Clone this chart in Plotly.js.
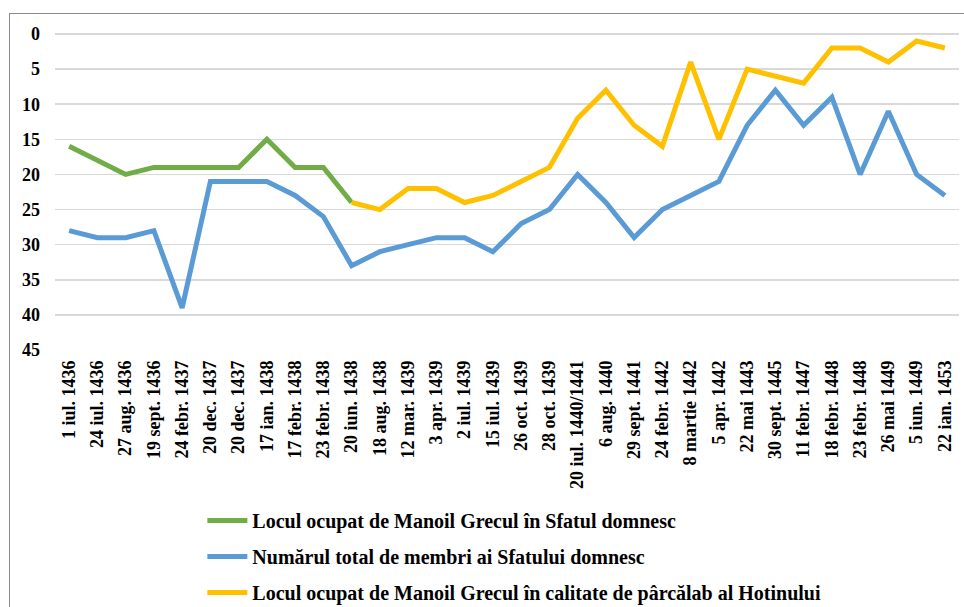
<!DOCTYPE html>
<html><head><meta charset="utf-8">
<script src="https://cdn.plot.ly/plotly-3.0.1.min.js"></script>
<style>html,body{margin:0;padding:0;background:#fff;overflow:hidden}#chart{width:964px;height:607px}
#frame{position:absolute;left:9px;top:13px;width:1200px;height:1200px;border-left:1.5px solid #8a8a8a;border-top:1.5px solid #8a8a8a;pointer-events:none}</style>
</head><body>
<div id="chart"></div><div id="frame"></div>
<script>
const categories = ["1 iul. 1436","24 iul. 1436","27 aug. 1436","19 sept. 1436","24 febr. 1437","20 dec. 1437","20 dec. 1437","17 ian. 1438","17 febr. 1438","23 febr. 1438","20 iun. 1438","18 aug. 1438","12 mar. 1439","3 apr. 1439","2 iul. 1439","15 iul. 1439","26 oct. 1439","28 oct. 1439","20 iul. 1440/1441","6 aug. 1440","29 sept. 1441","24 febr. 1442","8 martie 1442","5 apr. 1442","22 mai 1443","30 sept. 1445","11 febr. 1447","18 febr. 1448","23 febr. 1448","26 mai 1449","5 iun. 1449","22 ian. 1453"];
const seriesNames = ["Locul ocupat de Manoil Grecul în Sfatul domnesc","Numărul total de membri ai Sfatului domnesc","Locul ocupat de Manoil Grecul în calitate de pârcălab al Hotinului"];
const sfatValues = [16,18,20,19,19,19,19,15,19,19,24,null,null,null,null,null,null,null,null,null,null,null,null,null,null,null,null,null,null,null,null,null];
const totalValues = [28,29,29,28,39,21,21,21,23,26,33,31,30,29,29,31,27,25,20,24,29,25,23,21,13,8,13,9,20,11,20,23];
const parcalabValues = [null,null,null,null,null,null,null,null,null,null,24,25,22,22,24,23,21,19,12,8,13,16,4,15,5,6,7,2,2,4,1,2];
const yTicks = [0,5,10,15,20,25,30,35,40,45];

const xIdx = categories.map((_, i) => i);
const fontFam = 'Liberation Serif';
const colors = ['#70ad47','#5b9bd5','#ffc000'];
const vals = [sfatValues, totalValues, parcalabValues];
const traces = vals.map((v, k) => ({
  x: xIdx, y: v, type: 'scatter', mode: 'lines', name: seriesNames[k], legendgroup: 'g' + k,
  line: {color: colors[k], width: 5}, connectgaps: false
}));

const layout = {
  width: 964, height: 607,
  margin: {l: 55, r: 5, t: 34, b: 257, autoexpand: false},
  paper_bgcolor: '#fff', plot_bgcolor: '#fff',
  showlegend: true,
  legend: {x: 0.163, y: -0.478, xanchor: 'left', yanchor: 'top', orientation: 'v',
    font: {family: fontFam, size: 20, color: '#000', weight: 'bold'}, tracegroupgap: 7, itemwidth: 40},
  xaxis: {range: [-0.5, 31.5], tickvals: xIdx, ticktext: categories, tickangle: -90, automargin: false,
    showgrid: false, zeroline: false, showline: false, ticks: '', ticklabelstandoff: 6,
    tickfont: {family: fontFam, size: 18, color: '#000', weight: 'bold'}, fixedrange: true},
  yaxis: {range: [45, 0], tickvals: yTicks, showgrid: true, gridcolor: '#d9d9d9', gridwidth: 1.5, automargin: false,
    zeroline: true, zerolinecolor: '#d9d9d9', zerolinewidth: 1.5, showline: false, ticks: '',
    ticklabelstandoff: 14,
    tickfont: {family: fontFam, size: 18, color: '#000', weight: 'bold'}, fixedrange: true}
};
Plotly.newPlot('chart', traces, layout, {displayModeBar: false, staticPlot: true});
</script>
</body></html>
